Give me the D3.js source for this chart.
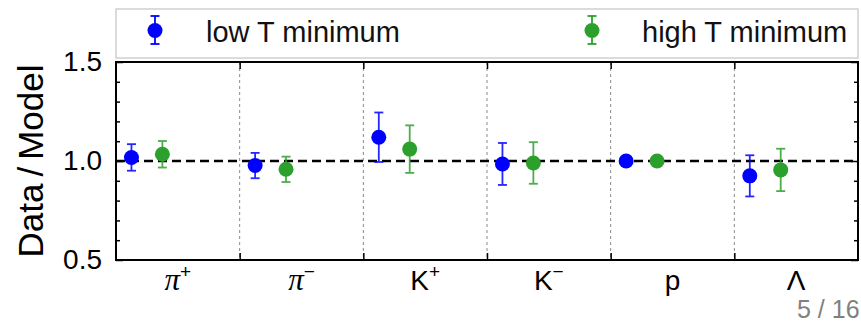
<!DOCTYPE html>
<html>
<head>
<meta charset="utf-8">
<script src="https://cdn.jsdelivr.net/npm/d3@7"></script>
<style>
  html, body { margin: 0; padding: 0; background: #fff; }
  svg { display: block; font-family: "Liberation Sans", Arial, sans-serif; }
</style>
</head>
<body>
<svg id="chart" width="861" height="323"></svg>
<script>
// Particle species on the x axis (base symbol + superscript charge)
const categories = [
  { base: "π", sup: "+", math: true },
  { base: "π", sup: "−", math: true },
  { base: "K", sup: "+", math: false },
  { base: "K", sup: "−", math: false },
  { base: "p", sup: "",  math: false },
  { base: "Λ", sup: "",  math: false }
];

// Data/Model ratios and their uncertainties for the two fit minima
const lowTValues  = [1.018, 0.977, 1.120, 0.985, 1.000, 0.925];
const lowTErrors  = [0.067, 0.064, 0.125, 0.106, 0.000, 0.104];
const highTValues = [1.034, 0.958, 1.060, 0.990, 1.000, 0.955];
const highTErrors = [0.067, 0.064, 0.120, 0.105, 0.000, 0.107];

const seriesNames  = ["low T minimum", "high T minimum"];
const seriesColors = ["#0000ff", "#2ca02c"];
const seriesOffset = [-0.375, -0.125];

const yMajorTicks = [0.5, 1.0, 1.5];
const yMinorTicks = [0.6, 0.7, 0.8, 0.9, 1.1, 1.2, 1.3, 1.4];

const svg = d3.select("#chart");
const plot = { left: 116, right: 858, top: 62, bottom: 260 };

const x = d3.scaleLinear([-0.5, categories.length - 0.5], [plot.left, plot.right]);
const y = d3.scaleLinear([0.5, 1.5], [plot.bottom, plot.top]);

// vertical separators between species
const bounds = d3.range(0.5, categories.length - 0.5, 1);
svg.append("g").selectAll("line").data(bounds).join("line")
  .attr("x1", d => x(d)).attr("x2", d => x(d))
  .attr("y1", plot.top).attr("y2", plot.bottom)
  .attr("stroke", "#8a8a8a").attr("stroke-width", 1)
  .attr("stroke-dasharray", "3,3");

// reference line at unity
svg.append("line")
  .attr("x1", plot.left).attr("x2", plot.right)
  .attr("y1", y(1)).attr("y2", y(1))
  .attr("stroke", "#000").attr("stroke-width", 2.5)
  .attr("stroke-dasharray", "9,5");

// axes: ticks point into the plot
function styleAxis(g) {
  g.select(".domain").remove();
  g.selectAll(".tick line").attr("stroke", "#000").attr("stroke-width", 1.5);
}
svg.append("g").attr("transform", `translate(${plot.left},0)`)
  .call(d3.axisLeft(y).tickValues(yMajorTicks).tickSize(-7).tickPadding(14)
        .tickFormat(d3.format(".1f")))
  .call(styleAxis)
  .call(g => g.selectAll("text").attr("font-size", 28).attr("fill", "#000")
        .attr("font-family", "Liberation Sans, Arial, sans-serif"));
svg.append("g").attr("transform", `translate(${plot.left},0)`)
  .call(d3.axisLeft(y).tickValues(yMinorTicks).tickSize(-4).tickFormat(""))
  .call(styleAxis);
svg.append("g").attr("transform", `translate(${plot.right},0)`)
  .call(d3.axisRight(y).tickValues(yMajorTicks).tickSize(-7).tickFormat(""))
  .call(styleAxis);
svg.append("g").attr("transform", `translate(${plot.right},0)`)
  .call(d3.axisRight(y).tickValues(yMinorTicks).tickSize(-4).tickFormat(""))
  .call(styleAxis);
svg.append("g").attr("transform", `translate(0,${plot.bottom})`)
  .call(d3.axisBottom(x).tickValues(bounds).tickSize(-7).tickFormat(""))
  .call(styleAxis);
svg.append("g").attr("transform", `translate(0,${plot.top})`)
  .call(d3.axisTop(x).tickValues(bounds).tickSize(-7).tickFormat(""))
  .call(styleAxis);

// frame
svg.append("rect")
  .attr("x", plot.left).attr("y", plot.top)
  .attr("width", plot.right - plot.left).attr("height", plot.bottom - plot.top)
  .attr("fill", "none").attr("stroke", "#000").attr("stroke-width", 2);

// species labels
const catLabels = svg.append("g").selectAll("text").data(categories).join("text")
  .attr("x", (d, i) => x(i))
  .attr("y", 290)
  .attr("text-anchor", "middle")
  .attr("font-size", 28)
  .attr("fill", "#000");
catLabels.append("tspan")
  .attr("font-family", d => d.math ? "Liberation Serif, serif" : null)
  .attr("font-style", d => d.math ? "italic" : null)
  .attr("font-size", d => d.math ? 31 : null)
  .text(d => d.base);
catLabels.append("tspan")
  .attr("font-size", 19)
  .attr("dy", -12)
  .text(d => d.sup);

// y-axis title
svg.append("text")
  .attr("transform", `translate(43,${(plot.top + plot.bottom) / 2}) rotate(-90)`)
  .attr("text-anchor", "middle")
  .attr("font-size", 35)
  .attr("fill", "#000")
  .text("Data\u2009/\u2009Model");

// error bars + markers
const series = [
  { values: lowTValues, errors: lowTErrors },
  { values: highTValues, errors: highTErrors }
];
series.forEach((s, k) => {
  const g = svg.append("g");
  const pts = s.values.map((v, i) => ({ i, v, e: s.errors[i] }));
  const eb = g.selectAll("g.eb").data(pts.filter(d => d.e > 0)).join("g")
    .attr("stroke", seriesColors[k]).attr("stroke-width", 1.8).attr("opacity", 0.85);
  eb.append("line")
    .attr("x1", d => x(d.i + seriesOffset[k])).attr("x2", d => x(d.i + seriesOffset[k]))
    .attr("y1", d => y(d.v - d.e)).attr("y2", d => y(d.v + d.e));
  [1, -1].forEach(sign => {
    eb.append("line")
      .attr("x1", d => x(d.i + seriesOffset[k]) - 4.5).attr("x2", d => x(d.i + seriesOffset[k]) + 4.5)
      .attr("y1", d => y(d.v + sign * d.e)).attr("y2", d => y(d.v + sign * d.e));
  });
  g.selectAll("circle").data(pts).join("circle")
    .attr("cx", d => x(d.i + seriesOffset[k]))
    .attr("cy", d => y(d.v))
    .attr("r", 7.5)
    .attr("fill", seriesColors[k]);
});

// legend
const legend = svg.append("g");
legend.append("rect")
  .attr("x", 116).attr("y", 9).attr("width", 742).attr("height", 49)
  .attr("fill", "#fff").attr("stroke", "#d0d0d0").attr("stroke-width", 1.5);
const legendItems = [
  { mx: 155, tx: 206 },
  { mx: 592, tx: 642 }
];
legendItems.forEach((it, k) => {
  const lg = legend.append("g").attr("stroke", seriesColors[k]).attr("stroke-width", 1.8);
  lg.append("line").attr("x1", it.mx).attr("x2", it.mx).attr("y1", 16).attr("y2", 44);
  lg.append("line").attr("x1", it.mx - 4.5).attr("x2", it.mx + 4.5).attr("y1", 16).attr("y2", 16);
  lg.append("line").attr("x1", it.mx - 4.5).attr("x2", it.mx + 4.5).attr("y1", 44).attr("y2", 44);
  legend.append("circle").attr("cx", it.mx).attr("cy", 30.5).attr("r", 7.5).attr("fill", seriesColors[k]);
  legend.append("text")
    .attr("x", it.tx).attr("y", 42)
    .attr("font-size", 29).attr("fill", "#111")
    .text(seriesNames[k]);
});

// slide page number
svg.append("text")
  .attr("x", 797).attr("y", 318)
  .attr("font-size", 25).attr("fill", "#808080")
  .text("5 / 16");
</script>
</body>
</html>
